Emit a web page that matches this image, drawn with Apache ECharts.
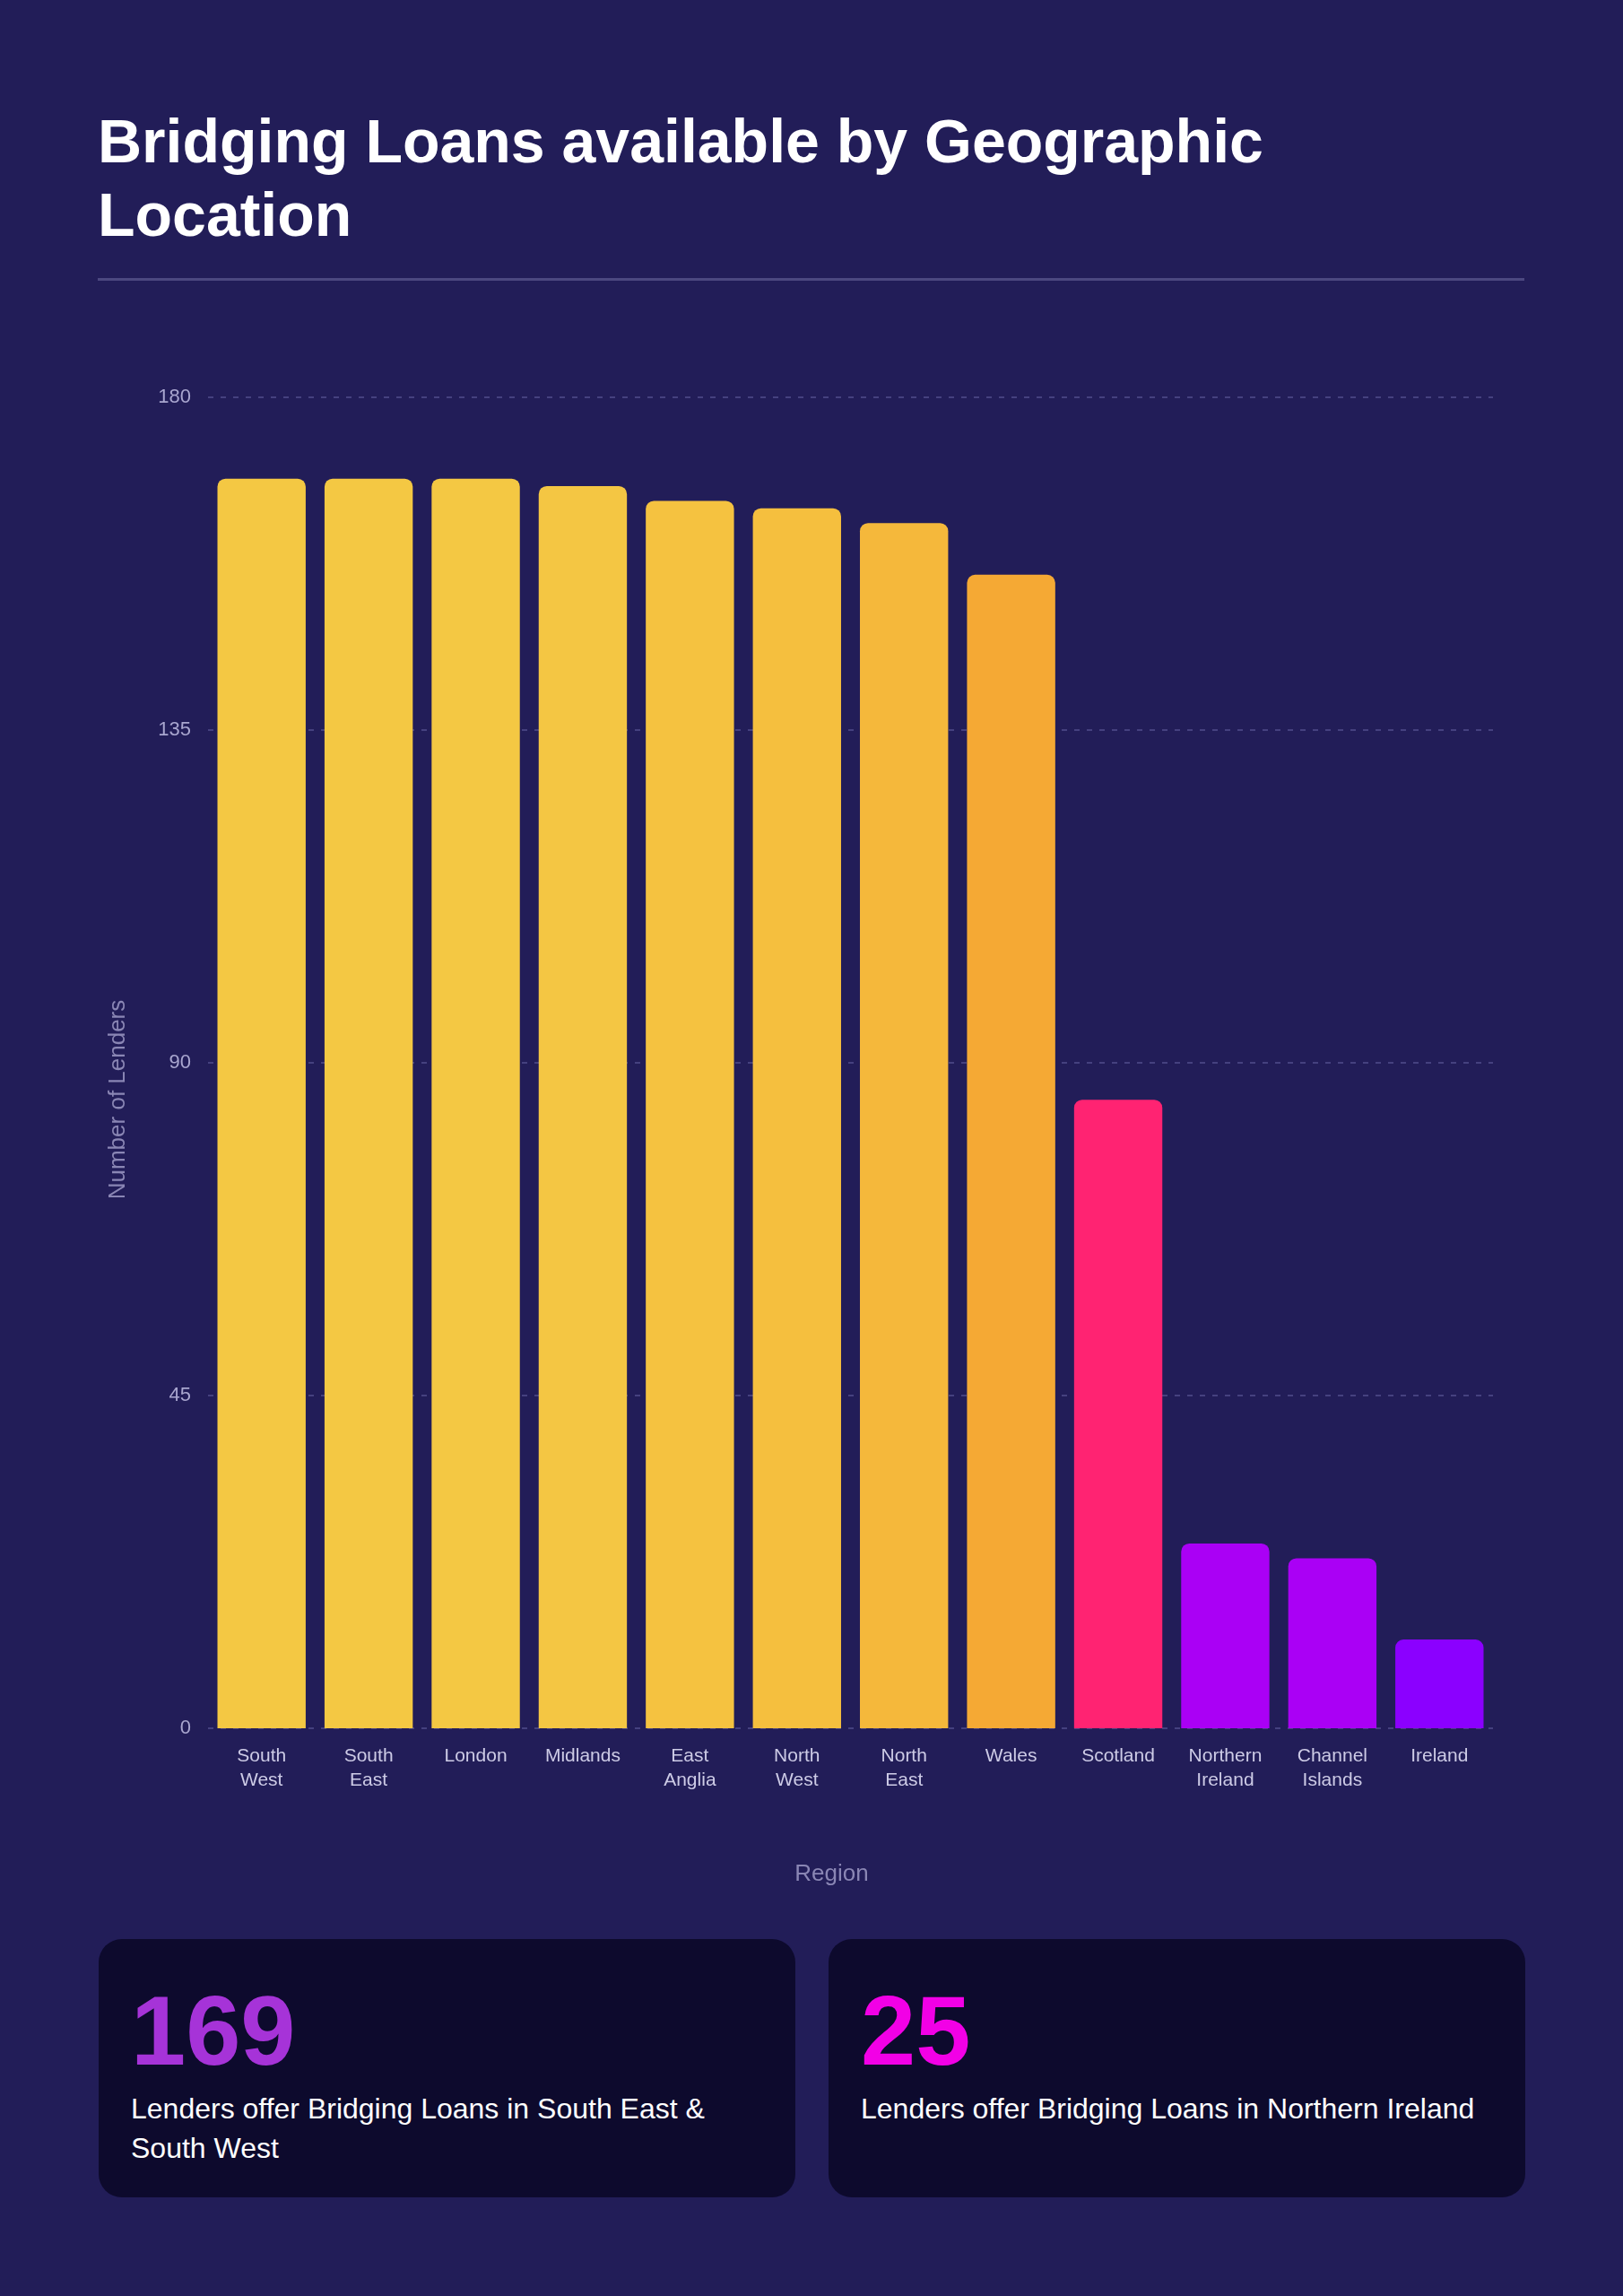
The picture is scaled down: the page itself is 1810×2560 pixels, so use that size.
<!DOCTYPE html>
<html>
<head>
<meta charset="utf-8">
<script src="https://cdn.jsdelivr.net/npm/echarts@6/dist/echarts.min.js"></script>
<style>
  html, body { margin: 0; padding: 0; }
  body {
    width: 1810px; height: 2560px; position: relative; overflow: hidden;
    background: #221d58; font-family: "Liberation Sans", Arial, sans-serif;
  }
  #chart { position: absolute; left: 0; top: 0; width: 1810px; height: 2560px; }
  .title {
    position: absolute; left: 109px; top: 117px; width: 1600px;
    color: #fff; font-weight: bold; font-size: 68px; line-height: 1.2; margin: 0;
  }
  .rule { position: absolute; left: 109px; top: 310px; width: 1591px; height: 3px; background: #4c4880; }
  .card {
    position: absolute; top: 2162px; width: 777px; height: 288px;
    background: #0d0a2d; border-radius: 26px; box-sizing: border-box; padding: 47px 36px 0 36px;
  }
  .card .num { font-weight: bold; font-size: 110px; line-height: 110px; }
  .card .txt { color: #fff; font-size: 32px; line-height: 44px; margin-top: 10px; }
</style>
</head>
<body>
<div id="chart"></div>
<h1 class="title">Bridging Loans available by Geographic<br>Location</h1>
<div class="rule"></div>
<div class="card" style="left:110px">
  <div class="num" style="color:#a633d8">169</div>
  <div class="txt">Lenders offer Bridging Loans in South East &amp; South West</div>
</div>
<div class="card" style="left:924px">
  <div class="num" style="color:#f200e6">25</div>
  <div class="txt">Lenders offer Bridging Loans in Northern Ireland</div>
</div>
<script>
var regions = ['South\nWest', 'South\nEast', 'London', 'Midlands', 'East\nAnglia', 'North\nWest',
               'North\nEast', 'Wales', 'Scotland', 'Northern\nIreland', 'Channel\nIslands', 'Ireland'];
var lenders = [169, 169, 169, 168, 166, 165, 163, 156, 85, 25, 23, 12];
var barColors = ['#f4c843', '#f4c843', '#f4c843', '#f4c643', '#f5c240', '#f5bf3e',
                 '#f5b83b', '#f5a934', '#ff2372', '#aa00f5', '#aa00f5', '#8b00ff'];
var yTicks = [0, 45, 90, 135, 180];

var myChart = echarts.init(document.getElementById('chart'));
var option = {
  backgroundColor: 'transparent',
  animation: false,
  grid: { left: 232, top: 443, width: 1433, height: 1484 },
  xAxis: {
    type: 'category',
    data: regions,
    name: 'Region',
    nameLocation: 'middle',
    nameGap: 150,
    nameTextStyle: { color: '#8a86b4', fontSize: 26, padding: [0, 42, 0, 0] },
    axisLine: { show: false },
    axisTick: { show: false },
    axisLabel: { color: '#cdcbe6', fontSize: 21, lineHeight: 27, margin: 18, interval: 0 }
  },
  yAxis: {
    type: 'value',
    min: yTicks[0],
    max: yTicks[yTicks.length - 1],
    interval: yTicks[1] - yTicks[0],
    name: 'Number of Lenders',
    nameLocation: 'middle',
    nameGap: 87,
    nameTextStyle: { color: '#8a86b4', fontSize: 26, padding: [0, 82, 0, 0] },
    axisLine: { show: false },
    axisTick: { show: false },
    axisLabel: { color: '#a9a6cf', fontSize: 22, margin: 19 },
    splitLine: { lineStyle: { color: '#45417f', width: 2, type: [6, 8] } }
  },
  series: [
    {
      type: 'bar',
      data: lenders.map(function (v, i) {
        return { value: v, itemStyle: { color: barColors[i] } };
      }),
      barCategoryGap: '17.6%',
      itemStyle: { borderRadius: [9, 9, 0, 0] }
    }
  ]
};
option && myChart.setOption(option);
</script>
</body>
</html>
